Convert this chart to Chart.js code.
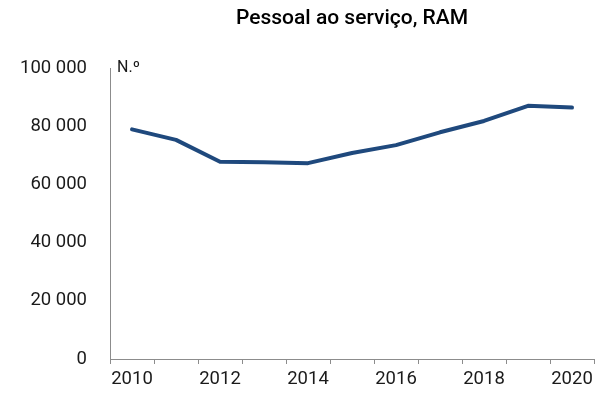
<!DOCTYPE html>
<html lang="pt">
<head>
<meta charset="utf-8">
<title>Pessoal ao serviço, RAM</title>
<script src="https://cdn.jsdelivr.net/npm/chart.js@4"></script>
<style>
  html, body { margin: 0; padding: 0; background: #fff; }
</style>
</head>
<body>
<canvas id="my-chart" width="607" height="394"></canvas>
<script>
'use strict';

// ******* DATA *********
let years = ['2010', '2011', '2012', '2013', '2014', '2015', '2016', '2017', '2018', '2019', '2020'];
let staffCount = [78900, 75300, 67800, 67600, 67300, 70800, 73500, 77900, 81800, 87000, 86400];
let yTicks = [0, 20000, 40000, 60000, 80000, 100000];
let chartTitle = 'Pessoal ao serviço, RAM';
let unitLabel = 'N.º';

// ******* STYLE *********
let lineColor = '#1f497d';
let axisColor = '#8c8c8c';
let textColor = '#1a1a1a';

// ****** HELPERS ******
function spaceThousands(value) {
  return String(value).replace(/\B(?=(\d{3})+(?!\d))/g, ' ');
}

// title sits over the plot area, unit tag at the top of the y axis
let labelsPlugin = {
  id: 'labels',
  afterDraw(chart) {
    let c = chart.ctx;
    let area = chart.chartArea;
    c.save();
    c.fillStyle = textColor;
    c.textBaseline = 'middle';
    c.textAlign = 'center';
    c.font = '500 21px Roboto';
    c.fillStyle = '#000';
    c.fillText(chartTitle, (area.left + area.right) / 2, 19);
    c.fillStyle = textColor;
    c.textAlign = 'left';
    c.font = '16px Roboto';
    c.fillText(unitLabel, area.left + 7, area.top);
    c.restore();
  }
};

// ***** CHART ******
let ctx = document.getElementById('my-chart');

let chartObj = {
  type: 'line',
  data: {
    labels: years,
    datasets: [{
      label: chartTitle,
      data: staffCount,
      borderColor: lineColor,
      borderWidth: 4,
      pointRadius: 0,
      tension: 0,
      borderCapStyle: 'round',
      borderJoinStyle: 'round'
    }]
  },
  options: {
    responsive: false,
    animation: false,
    devicePixelRatio: 1,
    layout: {
      padding: { top: 68, right: 13, left: 0, bottom: 0 }
    },
    plugins: {
      legend: { display: false },
      tooltip: { enabled: false }
    },
    scales: {
      x: {
        offset: true,
        grid: {
          display: true,
          drawOnChartArea: false,
          drawTicks: true,
          tickLength: 5,
          offset: true,
          color: axisColor
        },
        border: { display: true, color: axisColor, width: 1 },
        ticks: {
          autoSkip: false,
          maxRotation: 0,
          padding: 4,
          color: textColor,
          font: { family: 'Roboto', size: 18.5 },
          callback: function (val, i) {
            return i % 2 === 0 ? years[i] : '';
          }
        },
        afterFit: function (scale) {
          scale.height = 35;
        }
      },
      y: {
        min: 0,
        max: 100000,
        afterBuildTicks: function (scale) {
          scale.ticks = yTicks.map(v => ({ value: v }));
        },
        grid: { display: false },
        border: { display: true, color: axisColor, width: 1 },
        ticks: {
          padding: 15,
          color: textColor,
          font: { family: 'Roboto', size: 18.5 },
          callback: function (value) {
            return spaceThousands(value);
          }
        },
        afterFit: function (scale) {
          scale.width = 110;
        }
      }
    }
  },
  plugins: [labelsPlugin]
};

new Chart(ctx, chartObj); //eslint-disable-line
</script>
</body>
</html>
